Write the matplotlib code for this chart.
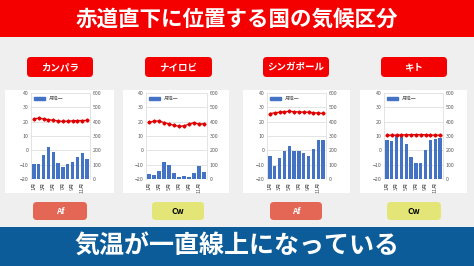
import matplotlib.pyplot as plt
from matplotlib.patches import FancyBboxPatch, Rectangle, Patch
import numpy as np

plt.rcParams['font.family'] = ['Noto Sans CJK JP', 'DejaVu Sans']

# data
cities = ['カンパラ', 'ナイロビ', 'シンガポール', 'キト']
climate = ['Af', 'Cw', 'Af', 'Cw']
months = ['1月', '2月', '3月', '4月', '5月', '6月', '7月', '8月', '9月', '10月', '11月', '12月']

temp_kampala = [21.9, 22.5, 21.9, 21.4, 21.0, 20.5, 20.2, 20.4, 20.6, 20.8, 20.8, 20.9]
temp_nairobi = [19.5, 20.4, 20.5, 19.4, 18.5, 17.5, 16.8, 17.0, 18.4, 19.3, 18.3, 18.6]
temp_singapore = [25.6, 26.2, 26.6, 27.0, 27.2, 27.0, 26.8, 26.7, 26.6, 26.3, 26.0, 25.8]
temp_quito = [10.5, 10.6, 10.6, 10.7, 10.9, 10.9, 11.0, 11.0, 10.9, 10.7, 10.6, 10.6]

rain_kampala = [105, 105, 167, 221, 191, 112, 81, 107, 121, 153, 179, 137]
rain_nairobi = [35, 30, 58, 121, 98, 42, 16, 23, 16, 44, 91, 51]
rain_singapore = [163, 93, 147, 198, 228, 198, 198, 179, 158, 209, 274, 272]
rain_quito = [274, 267, 305, 307, 247, 151, 112, 114, 205, 270, 281, 286]

temps = [temp_kampala, temp_nairobi, temp_singapore, temp_quito]
rains = [rain_kampala, rain_nairobi, rain_singapore, rain_quito]

W, H = 474, 266
fig = plt.figure(figsize=(W / 100, H / 100), dpi=100, facecolor='#efefef')


def box(x0, y0, x1, y1, color, rounded=False):
    if rounded:
        p = FancyBboxPatch((x0 / W, 1 - y1 / H), (x1 - x0) / W, (y1 - y0) / H,
                           boxstyle='round,pad=0,rounding_size=0.008',
                           transform=fig.transFigure, facecolor=color,
                           edgecolor='none', mutation_aspect=W / H, zorder=0.2)
    else:
        p = Rectangle((x0 / W, 1 - y1 / H), (x1 - x0) / W, (y1 - y0) / H,
                      transform=fig.transFigure, facecolor=color, edgecolor='none',
                      zorder=0.2)
    fig.patches.append(p)


def label(x, y, s, size, color='white'):
    fig.text(x / W, 1 - y / H, s, ha='center', va='center', fontsize=size,
             color=color, fontweight='bold')


# banners
box(0, 0, 474, 37, '#f50000')
label(237, 19, '赤道直下に位置する国の気候区分', 15.5)
box(0, 227, 474, 266, '#0b5c98')
label(237, 247, '気温が一直線上になっている', 18)

panel_x = [(5, 114), (123, 229), (243, 350), (360, 467)]
title_x = [(27, 93), (145, 212), (263, 329), (381, 447)]
badge_x = [(33, 87), (152, 204), (270, 322), (387, 441)]
axes_x = [(31, 90), (146, 207), (267, 326), (384, 443)]
badge_col = {'Af': '#e46654', 'Cw': '#e3e676'}
badge_txt = {'Af': 'white', 'Cw': 'black'}

x = np.arange(12)
for i in range(4):
    box(panel_x[i][0], 90, panel_x[i][1], 193, 'white')
    box(title_x[i][0], 57, title_x[i][1], 77, '#f50000', rounded=True)
    label(sum(title_x[i]) / 2, 67, cities[i], 6.8)
    box(badge_x[i][0], 202, badge_x[i][1], 220, badge_col[climate[i]], rounded=True)
    label(sum(badge_x[i]) / 2, 211, climate[i], 6, badge_txt[climate[i]])

    l, r = axes_x[i]
    ax = fig.add_axes([l / W, 1 - 179 / H, (r - l) / W, 86 / H])
    ax2 = ax.twinx()
    ax2.set_zorder(1)
    ax.set_zorder(2)
    ax.patch.set_visible(False)
    ax2.patch.set_visible(False)
    ax2.bar(x, rains[i], width=0.72, color='#4472c4', zorder=2)
    ax2.set_ylim(0, 600)
    ax2.set_yticks(range(0, 601, 100))
    ax.plot(x, temps[i], color='#e00000', lw=0.9, marker='D', ms=1.6)
    ax.set_ylim(-20, 40)
    ax.set_yticks(range(-20, 41, 10))
    ax.set_xlim(-0.6, 11.6)
    ax.set_xticks(x)
    ax.set_xticklabels([m if k % 2 == 0 else '' for k, m in enumerate(months)],
                       rotation=90, fontsize=3.5, color='#595959')
    for v in range(-20, 41, 10):
        ax2.axhline((v + 20) * 10, color='#d9d9d9', lw=0.5, zorder=0)
    for a in (ax, ax2):
        a.tick_params(length=0, labelsize=3.8, labelcolor='#595959', pad=2)
        for s in a.spines.values():
            s.set_visible(False)
    for side in ('left', 'right'):
        ax.spines[side].set_visible(True)
        ax.spines[side].set_color('#d9d9d9')
        ax.spines[side].set_linewidth(0.5)
    ax.legend(handles=[Patch(color='#4472c4', label='月降一')], loc='upper left',
              fontsize=3.5, frameon=False, handlelength=2.2, handleheight=0.5,
              borderaxespad=0.2, labelcolor='#595959')

fig.savefig('out.png', dpi=100, facecolor=fig.get_facecolor())
